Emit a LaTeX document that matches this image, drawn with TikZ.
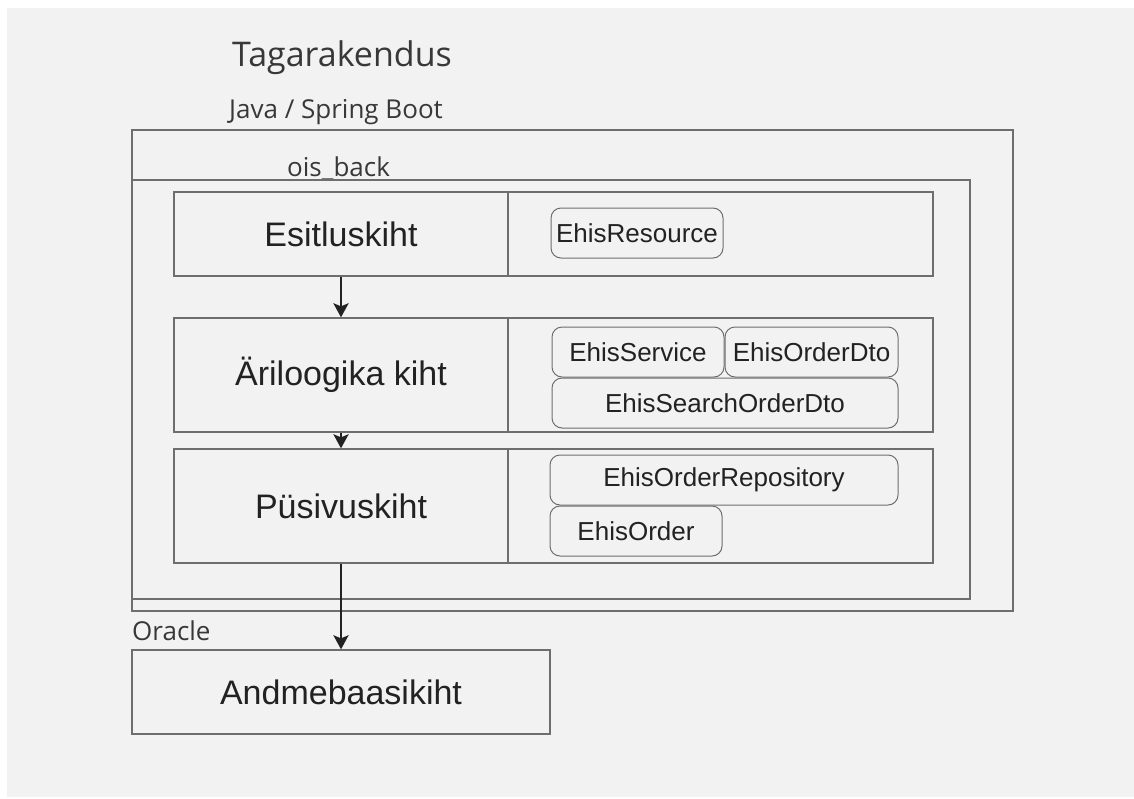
\documentclass[tikz,border=0pt]{standalone}
\usepackage{fontspec}
\setmainfont{Liberation Sans}
\newfontfamily\osans{Open Sans}
\usetikzlibrary{arrows.meta}
\definecolor{bg}{HTML}{F2F2F2}
\definecolor{ln}{HTML}{6E6E6E}
\definecolor{tx}{HTML}{222222}
\begin{document}
\begin{tikzpicture}[x=1pt,y=-1pt,
  container/.style={draw=ln,line width=1.3pt,inner sep=0pt},
  layerbox/.style={draw=ln,line width=1.3pt,inner sep=0pt,text=tx,font=\fontsize{34}{40}\selectfont},
  classbox/.style={draw=ln,line width=1pt,rounded corners=10pt,inner sep=0pt,text=tx,font=\fontsize{26}{30}\selectfont},
  title/.style={anchor=base west,inner sep=0pt,text=tx!90!white,font=\osans\fontsize{26}{30}\selectfont},
  flow/.style={draw=tx,line width=2.7pt,-{Stealth[length=14pt,width=15pt,inset=3pt]}}]
\useasboundingbox (0,0) rectangle (1134,798);
\fill[white] (0,0) rectangle (1134,798);
\fill[bg] (7,8) rectangle (1134,797);

\node[title,font=\osans\fontsize{34}{40}\selectfont] (tagar) at (232,66) {Tagarakendus};
\node[title] (java) at (229,118) {Java / Spring Boot};
\node[container,minimum width=881pt,minimum height=481pt] (javabox) at (572.5,370.5) {};
\node[title] (ois) at (287,176) {ois\_back};
\node[container,minimum width=838pt,minimum height=419pt] (oisbox) at (551,389.5) {};

\node[layerbox,minimum width=334pt,minimum height=84pt] (esit) at (341,234) {Esitluskiht};
\node[layerbox,minimum width=425pt,minimum height=84pt] (esitr) at (720.5,234) {};
\node[layerbox,minimum width=334pt,minimum height=114pt] (ari) at (341,375) {Äriloogika kiht};
\node[layerbox,minimum width=425pt,minimum height=114pt] (arir) at (720.5,375) {};
\node[layerbox,minimum width=334pt,minimum height=114pt] (pus) at (341,506) {Püsivuskiht};
\node[layerbox,minimum width=425pt,minimum height=114pt] (pusr) at (720.5,506) {};

\node[classbox,minimum width=172pt,minimum height=50pt] (res) at (637,233) {EhisResource};
\node[classbox,minimum width=172pt,minimum height=50pt] (svc) at (638,352) {EhisService};
\node[classbox,minimum width=173pt,minimum height=50pt] (odto) at (811.5,352) {EhisOrderDto};
\node[classbox,minimum width=346pt,minimum height=50pt] (sdto) at (725,403) {EhisSearchOrderDto};
\node[classbox,minimum width=348pt,minimum height=50pt] (repo) at (724,480) {EhisOrderRepository};
\node[classbox,minimum width=172pt,minimum height=50pt] (ord) at (636,531) {EhisOrder};

\node[title] (oracle) at (132,640) {Oracle};
\node[layerbox,minimum width=418pt,minimum height=84pt] (db) at (341,692) {Andmebaasikiht};

\draw[flow] (esit.south) -- (ari.north);
\draw[flow] (ari.south) -- (pus.north);
\draw[flow] (pus.south) -- (db.north);
\end{tikzpicture}
\end{document}
